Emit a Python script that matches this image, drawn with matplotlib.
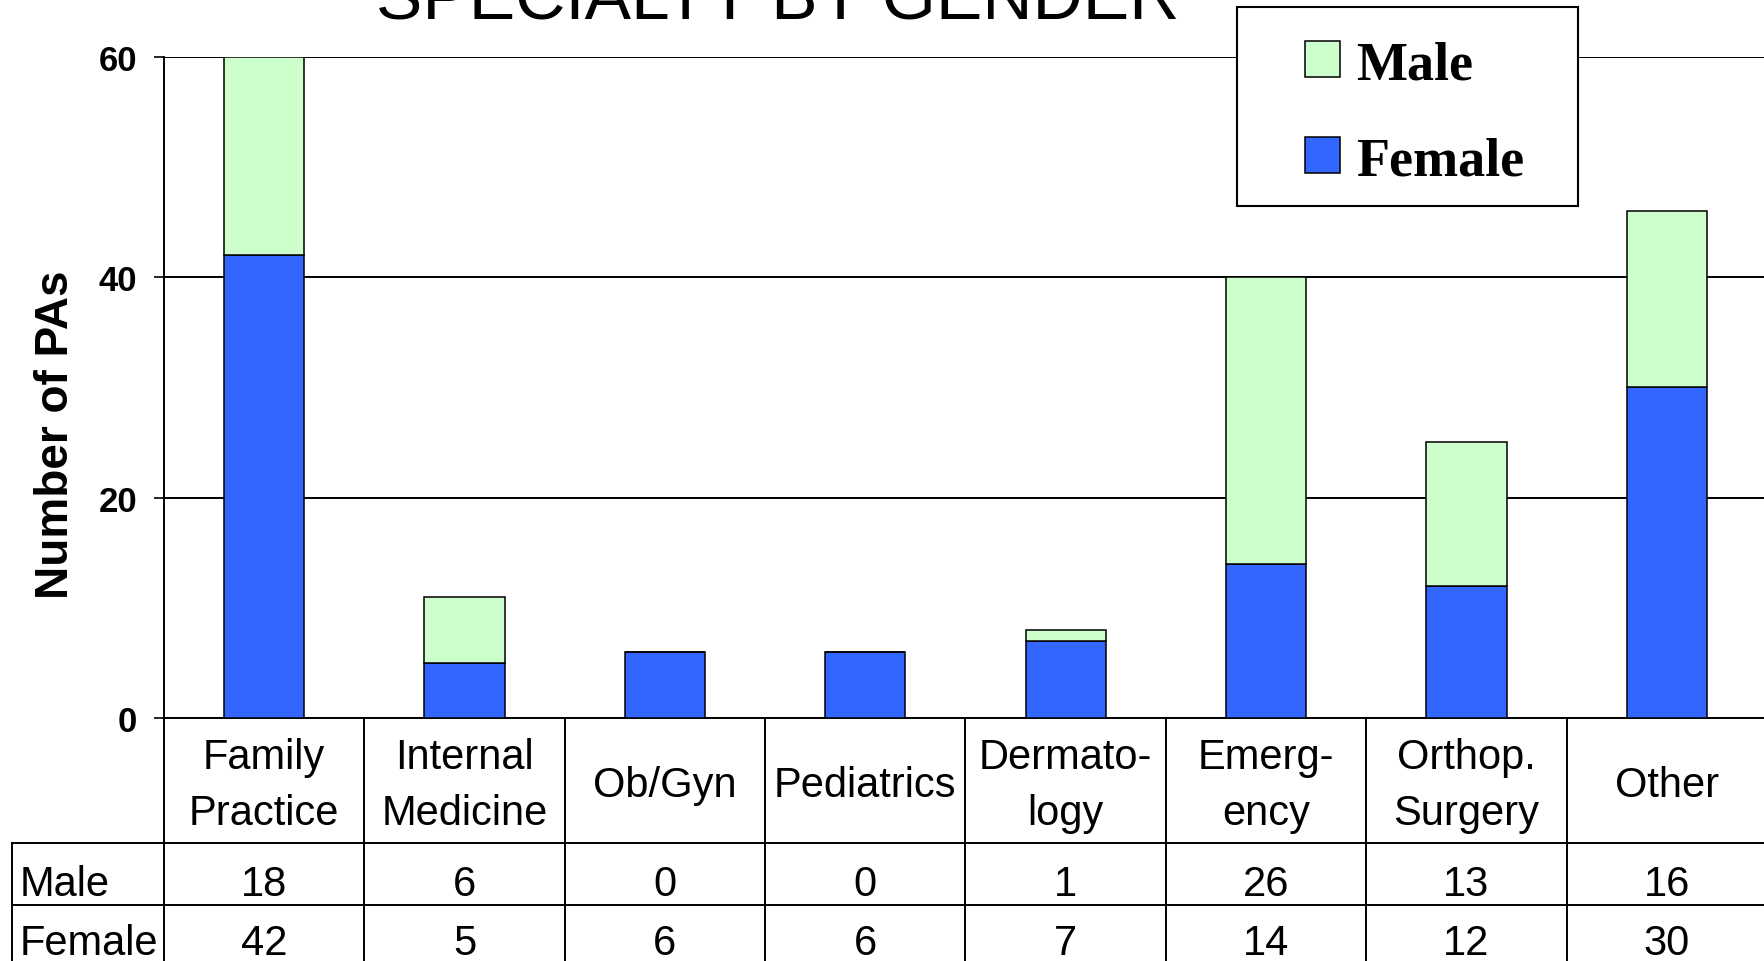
import numpy as np
import matplotlib
matplotlib.use("Agg")
import matplotlib.pyplot as plt
from matplotlib.lines import Line2D
from matplotlib.patches import Patch, Rectangle
from matplotlib.font_manager import FontProperties
from matplotlib.transforms import blended_transform_factory

plt.rcParams["font.family"] = "Liberation Sans"

# data
categories = ["Family\nPractice", "Internal\nMedicine", "Ob/Gyn", "Pediatrics",
              "Dermato-\nlogy", "Emerg-\nency", "Orthop.\nSurgery", "Other"]
male = [18, 6, 0, 0, 1, 26, 13, 16]
female = [42, 5, 6, 6, 7, 14, 12, 30]
series_names = ["Male", "Female"]
yticks = [0, 20, 40, 60]

MALE_C = "#CCFFCC"
FEMALE_C = "#3366FF"

W, H = 1765, 962


def fx(px):
    return px / W


def fy(py):
    return 1 - py / H


fig = plt.figure(figsize=(W / 100, H / 100), dpi=100)
ax = fig.add_axes([fx(164), fy(719), 1603 / W, (719 - 57.7) / H])

x = np.arange(len(categories))
ax.bar(x, female, 0.4, color=FEMALE_C, edgecolor="black", linewidth=1.1, zorder=3)
ax.bar(x, male, 0.4, bottom=female, color=MALE_C, edgecolor="black", linewidth=1.1, zorder=3)

ax.set_xlim(-0.5, len(categories) - 0.5)
ax.set_ylim(0, 60)
ax.set_yticks(yticks)
ax.set_xticks([])
ax.tick_params(axis="y", length=7.2, width=1.2, pad=12, labelsize=25)
for lab in ax.get_yticklabels():
    lab.set_fontweight("bold")
ax.yaxis.grid(True, color="black", linewidth=1.4)
ax.set_axisbelow(True)
for s in ["top", "right"]:
    ax.spines[s].set_visible(False)
ax.spines["left"].set_linewidth(1.4)
ax.spines["bottom"].set_linewidth(1.4)

fig.text(fx(56), fy(435), "Number of PAs", rotation=90, ha="center", va="center",
         fontsize=33, fontweight="bold")
fig.text(fx(778), fy(20), "SPECIALTY BY GENDER", ha="center", va="baseline", fontsize=50)

# data table under the axis
trans = blended_transform_factory(ax.transData, fig.transFigure)
lw = 1.4
for b in np.arange(-0.5, len(categories), 1.0):
    fig.add_artist(Line2D([b, b], [fy(719), 0], transform=trans, color="black", lw=lw))
for yy in [844, 906]:
    fig.add_artist(Line2D([fx(12), 1], [fy(yy), fy(yy)], transform=fig.transFigure,
                          color="black", lw=lw))
fig.add_artist(Line2D([fx(12), fx(12)], [fy(844), 0], transform=fig.transFigure,
                      color="black", lw=lw))

for i, cat in enumerate(categories):
    fig.text(i, fy(786), cat, transform=trans, ha="center", va="center",
             fontsize=30, linespacing=1.5)
    fig.text(i, fy(896), str(male[i]), transform=trans, ha="center", va="baseline", fontsize=30)
    fig.text(i, fy(955), str(female[i]), transform=trans, ha="center", va="baseline", fontsize=30)
fig.text(fx(20), fy(896), series_names[0], ha="left", va="baseline", fontsize=30)
fig.text(fx(20), fy(955), series_names[1], ha="left", va="baseline", fontsize=30)

# legend box
fig.add_artist(Rectangle((fx(1237), fy(206.7)), (1578 - 1237) / W, (206.7 - 8.3) / H,
                         transform=fig.transFigure, facecolor="white", edgecolor="black",
                         linewidth=1.5, zorder=4))
handles = [Patch(facecolor=MALE_C, edgecolor="black", linewidth=1.1),
           Patch(facecolor=FEMALE_C, edgecolor="black", linewidth=1.1)]
leg = fig.legend(handles, series_names, loc="upper left",
                 bbox_to_anchor=(fx(1305), fy(41)), frameon=False, borderpad=0,
                 borderaxespad=0, handlelength=0.65, handleheight=0.65,
                 handletextpad=0.3, labelspacing=0.85,
                 prop=FontProperties(family="Liberation Serif", weight="bold", size=39))
leg.set_zorder(5)

fig.savefig("out.png", dpi=100)
